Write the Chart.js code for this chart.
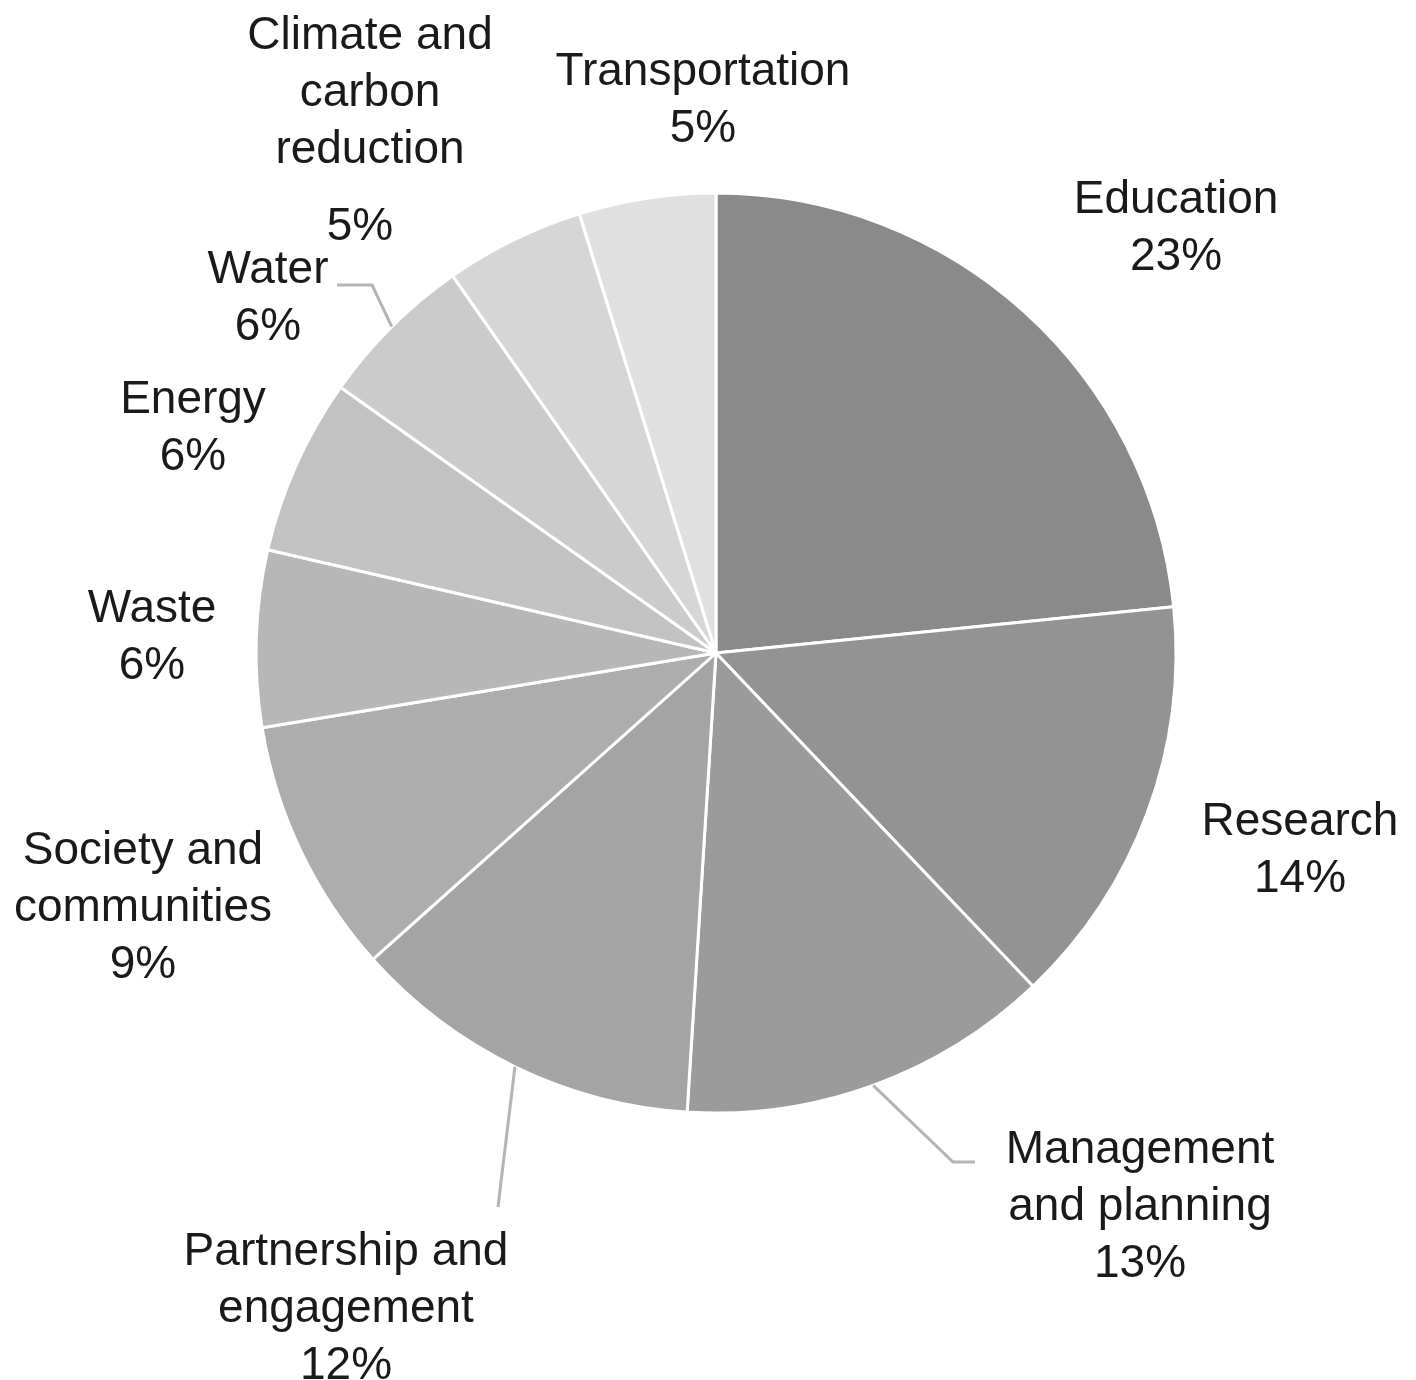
<!DOCTYPE html>
<html>
<head>
<meta charset="utf-8">
<script src="https://cdn.jsdelivr.net/npm/chart.js@4.4.1/dist/chart.umd.min.js"></script>
<style>
  html, body { margin: 0; padding: 0; background: #fff; }
  #wrap { width: 1416px; height: 1380px; }
</style>
</head>
<body>
<div id="wrap"><canvas id="pieChart" width="1416" height="1380"></canvas></div>
<script>
// slices, clockwise from 12 o'clock
const categories = ['Education', 'Research', 'Management and planning', 'Partnership and engagement',
  'Society and communities', 'Waste', 'Energy', 'Water', 'Climate and carbon reduction', 'Transportation'];
const shares = [23.4, 14.5, 13.1, 12.4, 9.0, 6.2, 6.2, 5.5, 4.9, 4.8];
const pctLabels = ['23%', '14%', '13%', '12%', '9%', '6%', '6%', '6%', '5%', '5%'];

const sliceColors = ['#8a8a8a', '#939393', '#9b9b9b', '#a4a4a4', '#adadad',
  '#b7b7b7', '#c2c2c2', '#cbcbcb', '#d6d6d6', '#e0e0e0'];

// label placement relative to pie centre: x, y of first line, optional gap before pct line
const labelLayout = [
  { lines: ['Education'], x: 460, y: -453 },
  { lines: ['Research'], x: 584, y: 169 },
  { lines: ['Management', 'and planning'], x: 424, y: 497, leader: [[237, 509], [259, 509]] },
  { lines: ['Partnership and', 'engagement'], x: -370, y: 599, leader: [[-218, 554]] },
  { lines: ['Society and', 'communities'], x: -573, y: 198 },
  { lines: ['Waste'], x: -564, y: -44 },
  { lines: ['Energy'], x: -523, y: -253 },
  { lines: ['Water'], x: -448, y: -383, leader: [[-344, -368], [-379, -368]] },
  { lines: ['Climate and', 'carbon', 'reduction'], x: -346, y: -617, gap: 20, pctDx: -10 },
  { lines: ['Transportation'], x: -13, y: -581 },
];

const lineHeight = 57;

const pieLabels = {
  id: 'pieLabels',
  afterDraw(chart) {
    const ctx = chart.ctx;
    const arcs = chart.getDatasetMeta(0).data;
    ctx.save();
    arcs.forEach((arc, i) => {
      const lay = labelLayout[i];
      const cx = arc.x, cy = arc.y;
      if (lay.leader) {
        const mid = (arc.startAngle + arc.endAngle) / 2;
        ctx.beginPath();
        ctx.moveTo(cx + Math.cos(mid) * arc.outerRadius, cy + Math.sin(mid) * arc.outerRadius);
        lay.leader.forEach(p => ctx.lineTo(cx + p[0], cy + p[1]));
        ctx.strokeStyle = '#b4b4b4';
        ctx.lineWidth = 3;
        ctx.stroke();
      }
      ctx.fillStyle = '#1a1a1a';
      ctx.font = '46px "Liberation Sans", Arial, sans-serif';
      ctx.textAlign = 'center';
      ctx.textBaseline = 'middle';
      lay.lines.forEach((t, k) => {
        ctx.fillText(t, cx + lay.x, cy + lay.y + k * lineHeight);
      });
      const py = cy + lay.y + lay.lines.length * lineHeight + (lay.gap || 0);
      ctx.fillText(pctLabels[i], cx + lay.x + (lay.pctDx || 0), py);
    });
    ctx.restore();
  }
};

new Chart(document.getElementById('pieChart').getContext('2d'), {
  type: 'pie',
  data: {
    labels: categories,
    datasets: [{
      data: shares,
      backgroundColor: sliceColors,
      borderColor: '#ffffff',
      borderWidth: 3,
      hoverOffset: 0,
    }],
  },
  options: {
    responsive: false,
    animation: false,
    radius: 460,
    layout: { padding: { left: 16, right: 0, top: 0, bottom: 74 } },
    plugins: {
      legend: { display: false },
      tooltip: { enabled: false },
    },
  },
  plugins: [pieLabels],
});
</script>
</body>
</html>
